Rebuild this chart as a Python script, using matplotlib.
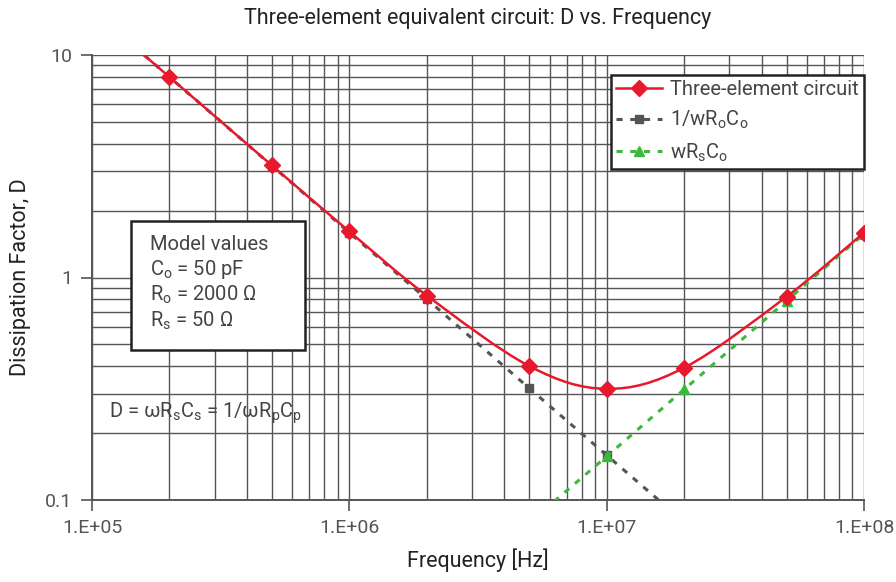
import numpy as np
import matplotlib.pyplot as plt
from matplotlib.lines import Line2D
from matplotlib.path import Path
from matplotlib.patches import PathPatch, Rectangle
from matplotlib.ticker import LogLocator, FixedLocator, NullFormatter

plt.rcParams['font.family'] = ['Roboto', 'DejaVu Sans']

# Frequency points [Hz]
freq = [1e5, 2e5, 5e5, 1e6, 2e6, 5e6, 1e7, 2e7, 5e7, 1e8]

# Dissipation factor values
d_three = [15.9, 7.96, 3.19, 1.61, 0.83, 0.40, 0.316, 0.393, 0.82, 1.59]
d_ro_co = [15.9, 7.96, 3.18, 1.59, 0.80, 0.318, 0.159, 0.0796, 0.032, 0.0159]
d_rs_co = [0.00157, 0.0031, 0.0079, 0.0157, 0.031, 0.079, 0.157, 0.314, 0.785, 1.57]

x_ticks = [1e5, 1e6, 1e7, 1e8]
x_labels = ["1.E+05", "1.E+06", "1.E+07", "1.E+08"]
y_ticks = [0.1, 1, 10]
y_labels = ["0.1", "1", "10"]

RED = "#e8192c"
GRAY = "#555555"
GREEN = "#3cb93c"


def smooth_path(xs, ys):
    # Excel-style smoothed line: Bezier segments through the points (log space)
    p = np.column_stack([np.log10(xs), np.log10(ys)])
    n = len(p)
    verts = [p[0]]
    codes = [Path.MOVETO]
    for i in range(n - 1):
        p0 = p[max(i - 1, 0)]
        p3 = p[min(i + 2, n - 1)]
        c1 = p[i] + (p[i + 1] - p0) / 6
        c2 = p[i + 1] - (p3 - p[i]) / 6
        verts += [c1, c2, p[i + 1]]
        codes += [Path.CURVE4] * 3
    return Path(10 ** np.array(verts), codes)


fig = plt.figure(figsize=(8.96, 5.82), dpi=100)
ax = fig.add_axes([92 / 896, 1 - 500 / 582, (864 - 92) / 896, (500 - 55) / 582])

ax.set_xscale("log")
ax.set_yscale("log")
ax.set_xlim(1e5, 1e8)
ax.set_ylim(0.1, 10)

ax.xaxis.set_major_locator(FixedLocator(x_ticks))
ax.yaxis.set_major_locator(FixedLocator(y_ticks))
ax.xaxis.set_minor_locator(LogLocator(base=10, subs=range(2, 10)))
ax.yaxis.set_minor_locator(LogLocator(base=10, subs=range(2, 10)))
ax.xaxis.set_minor_formatter(NullFormatter())
ax.yaxis.set_minor_formatter(NullFormatter())
ax.set_xticklabels(x_labels)
ax.set_yticklabels(y_labels)
ax.grid(True, which="both", color=GRAY, linewidth=1.0)
ax.tick_params(which="major", length=8, width=1.2, color=GRAY,
               labelsize=14, labelcolor="#555555", pad=6)
ax.tick_params(which="minor", length=0)
for side in ["top", "right"]:
    ax.spines[side].set_visible(False)
for side in ["left", "bottom"]:
    ax.spines[side].set_color(GRAY)
    ax.spines[side].set_linewidth(1.4)

ax.add_patch(PathPatch(smooth_path(freq, d_three), facecolor="none",
                       edgecolor=RED, linewidth=1.8, zorder=5))
ax.plot(freq, d_three, color=RED, linestyle="none", marker="D",
        markersize=8, zorder=6)
ax.plot(freq, d_ro_co, color=GRAY, linewidth=2.2, linestyle=(0, (2, 2.5)),
        marker="s", markersize=6, zorder=4)
ax.plot(freq, d_rs_co, color=GREEN, linewidth=2.2, linestyle=(0, (2, 2.5)),
        marker="^", markersize=7, zorder=4)

handles = [
    Line2D([], [], color=RED, linewidth=1.8, marker="D", markersize=8),
    Line2D([], [], color=GRAY, linewidth=2.2, linestyle=(0, (2, 2.5)),
           marker="s", markersize=6),
    Line2D([], [], color=GREEN, linewidth=2.2, linestyle=(0, (2, 2.5)),
           marker="^", markersize=7),
]
labels = ["Three-element circuit",
          "1/wR$_\\mathregular{o}$C$_\\mathregular{o}$",
          "wR$_\\mathregular{s}$C$_\\mathregular{o}$"]
leg = ax.legend(handles, labels, loc="upper left", bbox_to_anchor=(0.672, 0.955),
                fontsize=14.5, frameon=True, fancybox=False, framealpha=1,
                edgecolor="#222222", handlelength=2.3, borderpad=0.25,
                labelspacing=0.5, handletextpad=0.4, borderaxespad=0)
leg.get_frame().set_linewidth(1.8)
for t in leg.get_texts():
    t.set_color("#444444")

# model values box
ax.add_patch(Rectangle((0.0505, 0.337), 0.2255, 0.29, transform=ax.transAxes,
                       facecolor="white", edgecolor="#222222", linewidth=1.8,
                       zorder=7))
ax.text(0.0751, 0.595,
        "Model values\n"
        "C$_\\mathregular{o}$ = 50 pF\n"
        "R$_\\mathregular{o}$ = 2000 Ω\n"
        "R$_\\mathregular{s}$ = 50 Ω",
        transform=ax.transAxes, fontsize=14.5, color="#444444",
        va="top", ha="left", linespacing=1.2, zorder=8)

ax.text(0.022, 0.195,
        "D = ωR$_\\mathregular{s}$C$_\\mathregular{s}$ = 1/ωR$_\\mathregular{p}$C$_\\mathregular{p}$",
        transform=ax.transAxes, fontsize=14.5, color="#444444",
        va="center", ha="left", zorder=7)

ax.set_title("Three-element equivalent circuit: D vs. Frequency",
             fontsize=15.5, color="#222222", pad=22)
ax.set_xlabel("Frequency [Hz]", fontsize=15.5, color="#222222", labelpad=8)
ax.set_ylabel("Dissipation Factor, D", fontsize=15.5, color="#222222", labelpad=10)

fig.savefig("out.png", dpi=100)
